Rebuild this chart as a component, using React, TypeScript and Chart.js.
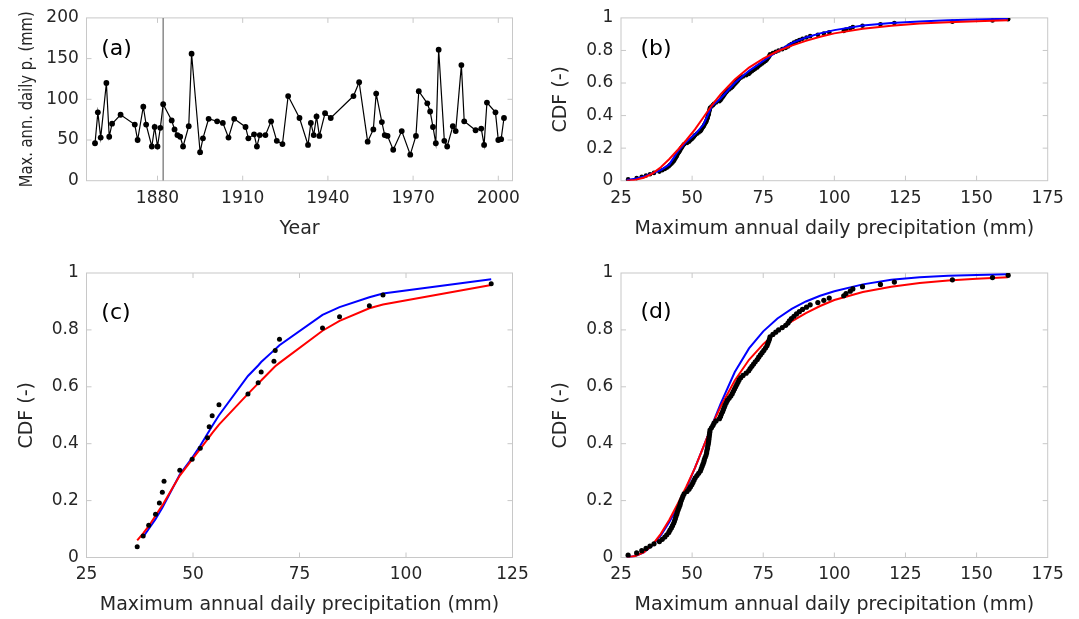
import React, { useEffect, useRef } from "react";
import { Chart, registerables } from "chart.js";
Chart.register(...registerables);

// ---------- DATA ----------
// Panel (a): maximum annual daily precipitation time series
const years = [1858, 1859, 1860, 1862, 1863, 1864, 1867, 1872, 1873, 1875, 1876, 1878, 1879, 1880, 1881, 1882,
  1885, 1886, 1887, 1888, 1889, 1891, 1892, 1895, 1896, 1898, 1901, 1903, 1905, 1907, 1911, 1912, 1914, 1915,
  1916, 1918, 1920, 1922, 1924, 1926, 1930, 1933, 1934, 1935, 1936, 1937, 1939, 1941, 1949, 1951, 1954, 1956,
  1957, 1959, 1960, 1961, 1963, 1966, 1969, 1971, 1972, 1975, 1976, 1977, 1978, 1979, 1981, 1982, 1984, 1985,
  1987, 1988, 1992, 1994, 1995, 1996, 1999, 2000, 2001, 2002];
const maxDaily = [46, 84, 53, 120, 54, 70, 81, 69, 50, 91, 69, 42, 66, 42, 65, 94,
  74, 63, 56, 54, 42, 67, 156, 35, 52, 76, 73, 71, 53, 76, 66, 52, 57, 42,
  56, 56, 73, 49, 45, 104, 77, 44, 71, 56, 79, 55, 83, 77, 104, 121, 48, 63,
  107, 72, 56, 55, 38, 61, 32, 55, 110, 95, 85, 66, 46, 161, 49, 42, 67, 61,
  142, 73, 62, 64, 44, 96, 84, 50, 51, 77];
const markerYear = [1882];
const yearTicks = [1880, 1910, 1940, 1970, 2000];
const maxTicks = [0, 50, 100, 150, 200];

// Panels (b), (d): empirical CDF of the full record
const ecdfX = [27.5, 30.5, 32.3, 33.8, 35.2, 36.6, 38.5, 39.5, 40.4, 41.1,
  41.8, 42.2, 42.7, 43.1, 43.5, 43.8, 44.1, 44.3, 44.6, 44.8,
  45.1, 45.4, 45.7, 45.9, 46.2, 46.5, 46.8, 47.2, 48.2, 48.9,
  49.4, 49.9, 50.3, 50.7, 51.1, 51.7, 52.3, 52.9, 53.2, 53.5,
  53.8, 54.1, 54.3, 54.6, 54.9, 55.1, 55.2, 55.4, 55.5, 55.7,
  55.8, 55.9, 56.0, 56.1, 56.2, 56.3, 56.8, 57.3, 57.7, 58.4,
  59.6, 60.0, 60.3, 60.7, 61.0, 61.3, 61.6, 62.0, 62.4, 63.0,
  63.6, 64.1, 64.5, 64.9, 65.3, 65.7, 66.1, 66.5, 67.1, 67.9,
  69.0, 69.9, 70.4, 71.0, 71.6, 72.2, 72.9, 73.4, 74.0, 74.6,
  75.2, 75.8, 76.3, 76.6, 76.9, 77.2, 77.4, 78.4, 79.4, 80.4,
  81.7, 82.9, 83.7, 84.2, 84.9, 85.8, 86.7, 87.7, 88.8, 90.2,
  91.5, 94.2, 96.3, 98.2, 103.3, 104.1, 105.6, 106.5, 109.9, 116.2,
  121.1, 141.5, 155.6, 161.1];
const ecdfP = [0.008, 0.016, 0.024, 0.032, 0.040, 0.048, 0.056, 0.064, 0.072, 0.080,
  0.088, 0.096, 0.104, 0.112, 0.120, 0.128, 0.136, 0.144, 0.152, 0.160,
  0.168, 0.176, 0.184, 0.192, 0.200, 0.208, 0.216, 0.224, 0.232, 0.240,
  0.248, 0.256, 0.264, 0.272, 0.280, 0.288, 0.296, 0.304, 0.312, 0.320,
  0.328, 0.336, 0.344, 0.352, 0.360, 0.368, 0.376, 0.384, 0.392, 0.400,
  0.408, 0.416, 0.424, 0.432, 0.440, 0.448, 0.456, 0.464, 0.472, 0.480,
  0.488, 0.496, 0.504, 0.512, 0.520, 0.528, 0.536, 0.544, 0.552, 0.560,
  0.568, 0.576, 0.584, 0.592, 0.600, 0.608, 0.616, 0.624, 0.632, 0.640,
  0.648, 0.656, 0.664, 0.672, 0.680, 0.688, 0.696, 0.704, 0.712, 0.720,
  0.728, 0.736, 0.744, 0.752, 0.760, 0.768, 0.776, 0.784, 0.792, 0.800,
  0.808, 0.816, 0.824, 0.832, 0.840, 0.848, 0.856, 0.864, 0.872, 0.880,
  0.888, 0.896, 0.904, 0.912, 0.920, 0.928, 0.936, 0.944, 0.952, 0.960,
  0.968, 0.976, 0.984, 0.992];

const curveX = [27, 30, 33, 36, 39, 42, 45, 48, 51, 54, 57, 60, 65, 70, 75, 80, 85, 90, 95, 100, 110, 120, 130, 140, 150, 161];
const blueB = [0.004, 0.012, 0.025, 0.045, 0.065, 0.10, 0.18, 0.24, 0.285, 0.345, 0.46, 0.505, 0.60, 0.675, 0.735, 0.795, 0.845, 0.88, 0.905, 0.925, 0.953, 0.968, 0.978, 0.985, 0.99, 0.995];
const redFull = [0.0, 0.005, 0.018, 0.044, 0.083, 0.133, 0.19, 0.25, 0.315, 0.39, 0.465, 0.53, 0.622, 0.695, 0.75, 0.795, 0.83, 0.859, 0.884, 0.905, 0.933, 0.952, 0.965, 0.974, 0.98, 0.985];
const blueD = [0.0, 0.005, 0.018, 0.042, 0.078, 0.125, 0.18, 0.245, 0.315, 0.39, 0.465, 0.54, 0.652, 0.735, 0.795, 0.84, 0.874, 0.90, 0.92, 0.936, 0.96, 0.976, 0.985, 0.99, 0.993, 0.996];
const precipTicksLong = [25, 50, 75, 100, 125, 150, 175];

// Panel (c): sub-sample
const subX = [36.9, 38.3, 39.6, 41.2, 42.1, 42.8, 43.2, 46.9, 49.8, 51.7, 53.4, 53.8, 54.5, 56.1, 62.9, 65.3, 66.0, 69.0, 69.3, 70.3, 80.4, 84.4, 91.4, 94.6, 120];
const subP = [0.038, 0.076, 0.113, 0.152, 0.192, 0.229, 0.268, 0.307, 0.345, 0.384, 0.421, 0.46, 0.498, 0.537, 0.575, 0.614, 0.652, 0.69, 0.728, 0.767, 0.807, 0.846, 0.885, 0.923, 0.962];
const subBlue = [null, 0.072, 0.10, 0.135, 0.157, 0.175, 0.186, 0.292, 0.35, 0.393, 0.435, 0.445, 0.462, 0.50, 0.638, 0.675, 0.687, 0.728, 0.732, 0.746, 0.853, 0.88, 0.915, 0.928, 0.978];
const subRed = [0.06, 0.085, 0.11, 0.147, 0.168, 0.183, 0.193, 0.288, 0.345, 0.382, 0.415, 0.423, 0.437, 0.467, 0.575, 0.612, 0.622, 0.668, 0.672, 0.684, 0.797, 0.832, 0.876, 0.889, 0.958];
const precipTicksShort = [25, 50, 75, 100, 125];
const cdfTicks = [0, 0.2, 0.4, 0.6, 0.8, 1];

// ---------- STYLE ----------
const FONT = "'DejaVu Sans', sans-serif";
const TEXT = "#262626";
const FRAME = "#c8c8c8";

const pts = (xs: number[], ys: (number | null)[]) =>
  xs.map((x, i) => ({ x, y: ys[i] })).filter((p) => p.y !== null);

const framePlugin = {
  id: "frame",
  beforeDatasetsDraw(chart: any) {
    const { ctx, chartArea: a, scales } = chart;
    ctx.save();
    ctx.strokeStyle = FRAME;
    ctx.lineWidth = 1;
    ctx.strokeRect(a.left, a.top, a.right - a.left, a.bottom - a.top);
    const tl = 5;
    const xs = scales.x, ys = scales.y;
    ctx.beginPath();
    xs.ticks.forEach((t: any) => {
      if (t.value <= xs.min || t.value >= xs.max) return;
      const px = xs.getPixelForValue(t.value);
      ctx.moveTo(px, a.bottom); ctx.lineTo(px, a.bottom - tl);
      ctx.moveTo(px, a.top); ctx.lineTo(px, a.top + tl);
    });
    ys.ticks.forEach((t: any) => {
      if (t.value <= ys.min || t.value >= ys.max) return;
      const py = ys.getPixelForValue(t.value);
      ctx.moveTo(a.left, py); ctx.lineTo(a.left + tl, py);
      ctx.moveTo(a.right, py); ctx.lineTo(a.right - tl, py);
    });
    ctx.stroke();
    ctx.restore();
  },
};

const labelPlugin = {
  id: "panelLabel",
  afterDatasetsDraw(chart: any, _args: any, opts: any) {
    const { ctx, chartArea: a } = chart;
    ctx.save();
    ctx.font = `22px ${FONT}`;
    ctx.fillStyle = "#000";
    ctx.textAlign = "center";
    ctx.textBaseline = "middle";
    ctx.fillText(opts.text, a.left + opts.dx, a.top + opts.dy);
    if (opts.squeezed) {
      const s = opts.squeezed;
      ctx.font = `${s.size}px ${FONT}`;
      ctx.fillStyle = TEXT;
      const w = ctx.measureText(s.text).width;
      ctx.translate(a.left - s.offset, (a.top + a.bottom) / 2);
      ctx.rotate(-Math.PI / 2);
      ctx.scale(s.length / w, 1);
      ctx.fillText(s.text, 0, 0);
    }
    ctx.restore();
  },
};

type Panel = {
  box: { left: number; top: number; w: number; h: number };
  area: { L: number; T: number; R: number; B: number };
  xMin: number; xMax: number; xTicks: number[];
  yMin: number; yMax: number; yTicks: number[];
  xTitle: string; yTitle: string; squeezeTitle?: boolean;
  label: string; ldx: number; ldy: number;
  datasets: any[];
};

function makeConfig(p: Panel): any {
  const { box, area } = p;
  const tickFont = { family: FONT, size: 17 };
  const titleSize = 19;
  const LH = titleSize * 1.2;
  const yTitlePad = area.L - 59.5 - box.left - LH / 2;
  const xTitlePad = box.top + box.h - (area.B + 48) - LH / 2;
  return {
    type: "scatter",
    data: { datasets: p.datasets },
    options: {
      animation: false,
      responsive: false,
      maintainAspectRatio: false,
      events: [],
      layout: { padding: { top: area.T - box.top, right: box.left + box.w - area.R, bottom: 0, left: 0 } },
      plugins: {
        legend: { display: false },
        tooltip: { enabled: false },
        panelLabel: {
          text: p.label, dx: p.ldx, dy: p.ldy,
          squeezed: p.squeezeTitle ? { text: p.yTitle, size: 18, length: 176, offset: 59.5 } : null,
        },
      },
      scales: {
        x: {
          type: "linear", min: p.xMin, max: p.xMax,
          afterBuildTicks: (s: any) => { s.ticks = p.xTicks.map((v) => ({ value: v })); },
          afterFit: (s: any) => { s.height = box.top + box.h - area.B; },
          grid: { display: false, drawTicks: false },
          border: { display: false },
          ticks: { padding: 7.3, font: tickFont, color: TEXT, maxRotation: 0, autoSkip: false, callback: (v: any) => String(v) },
          title: { display: true, text: p.xTitle, color: TEXT, font: { family: FONT, size: titleSize }, padding: { top: 0, bottom: xTitlePad } },
        },
        y: {
          type: "linear", min: p.yMin, max: p.yMax,
          afterBuildTicks: (s: any) => { s.ticks = p.yTicks.map((v) => ({ value: v })); },
          afterFit: (s: any) => { s.width = area.L - box.left; },
          grid: { display: false, drawTicks: false },
          border: { display: false },
          ticks: { padding: 7.7, font: tickFont, color: TEXT, autoSkip: false, callback: (v: any) => String(v) },
          title: { display: !p.squeezeTitle, text: p.yTitle, color: TEXT, font: { family: FONT, size: titleSize }, padding: { top: yTitlePad, bottom: 0 } },
        },
      },
    },
    plugins: [framePlugin, labelPlugin],
  };
}

const lineDs = (data: any[], color: string, width = 2) => ({
  data, showLine: true, borderColor: color, borderWidth: width, pointRadius: 0, fill: false, tension: 0,
});
const dotDs = (data: any[], r: number) => ({
  data, showLine: false, pointRadius: r, pointBackgroundColor: "#000", pointBorderColor: "#000", pointBorderWidth: 0,
});

const panels: Panel[] = [
  {
    box: { left: 0, top: 0, w: 540, h: 250 },
    area: { L: 86.5, T: 17, R: 512.5, B: 180.7 },
    xMin: 1855, xMax: 2005, xTicks: yearTicks,
    yMin: 0, yMax: 200, yTicks: maxTicks,
    xTitle: "Year", yTitle: "Max. ann. daily p. (mm)", squeezeTitle: true,
    label: "(a)", ldx: 30, ldy: 31,
    datasets: [
      {
        data: pts(years, maxDaily), showLine: true, borderColor: "#000", borderWidth: 1.2,
        pointRadius: 2.9, pointBackgroundColor: "#000", pointBorderColor: "#000", pointBorderWidth: 0, tension: 0,
      },
      lineDs([{ x: markerYear[0], y: 0 }, { x: markerYear[0], y: 200 }], "#8a8a8a", 1.5),
    ],
  },
  {
    box: { left: 540, top: 0, w: 539, h: 250 },
    area: { L: 621, T: 17, R: 1047.7, B: 180.7 },
    xMin: 25, xMax: 175, xTicks: precipTicksLong,
    yMin: 0, yMax: 1, yTicks: cdfTicks,
    xTitle: "Maximum annual daily precipitation (mm)", yTitle: "CDF (-)",
    label: "(b)", ldx: 35, ldy: 31,
    datasets: [
      lineDs(pts(curveX, redFull), "#ff0000"),
      lineDs(pts(curveX, blueB), "#0000ff"),
      dotDs(pts(ecdfX, ecdfP), 2.3),
    ],
  },
  {
    box: { left: 0, top: 250, w: 540, h: 369 },
    area: { L: 86.5, T: 273, R: 512.5, B: 557.5 },
    xMin: 25, xMax: 125, xTicks: precipTicksShort,
    yMin: 0, yMax: 1, yTicks: cdfTicks,
    xTitle: "Maximum annual daily precipitation (mm)", yTitle: "CDF (-)",
    label: "(c)", ldx: 29.5, ldy: 40,
    datasets: [
      dotDs(pts(subX, subP), 2.5),
      lineDs(pts(subX, subRed), "#ff0000"),
      lineDs(pts(subX, subBlue), "#0000ff"),
    ],
  },
  {
    box: { left: 540, top: 250, w: 539, h: 369 },
    area: { L: 621, T: 273, R: 1047.7, B: 557.5 },
    xMin: 25, xMax: 175, xTicks: precipTicksLong,
    yMin: 0, yMax: 1, yTicks: cdfTicks,
    xTitle: "Maximum annual daily precipitation (mm)", yTitle: "CDF (-)",
    label: "(d)", ldx: 35, ldy: 39,
    datasets: [
      dotDs(pts(ecdfX, ecdfP), 2.6),
      lineDs(pts(curveX, redFull), "#ff0000"),
      lineDs(pts(curveX, blueD), "#0000ff"),
    ],
  },
];

function PanelCanvas({ p }: { p: Panel }) {
  const ref = useRef<HTMLCanvasElement | null>(null);
  useEffect(() => {
    if (!ref.current) return;
    const chart = new Chart(ref.current, makeConfig(p));
    return () => chart.destroy();
  }, [p]);
  return (
    <canvas
      ref={ref}
      width={p.box.w}
      height={p.box.h}
      style={{ position: "absolute", left: p.box.left, top: p.box.top, width: p.box.w, height: p.box.h }}
    />
  );
}

export default function App() {
  return (
    <div style={{ position: "absolute", left: 0, top: 0, width: 1079, height: 619, background: "#fff", overflow: "hidden" }}>
      {panels.map((p, i) => (
        <PanelCanvas key={i} p={p} />
      ))}
    </div>
  );
}
